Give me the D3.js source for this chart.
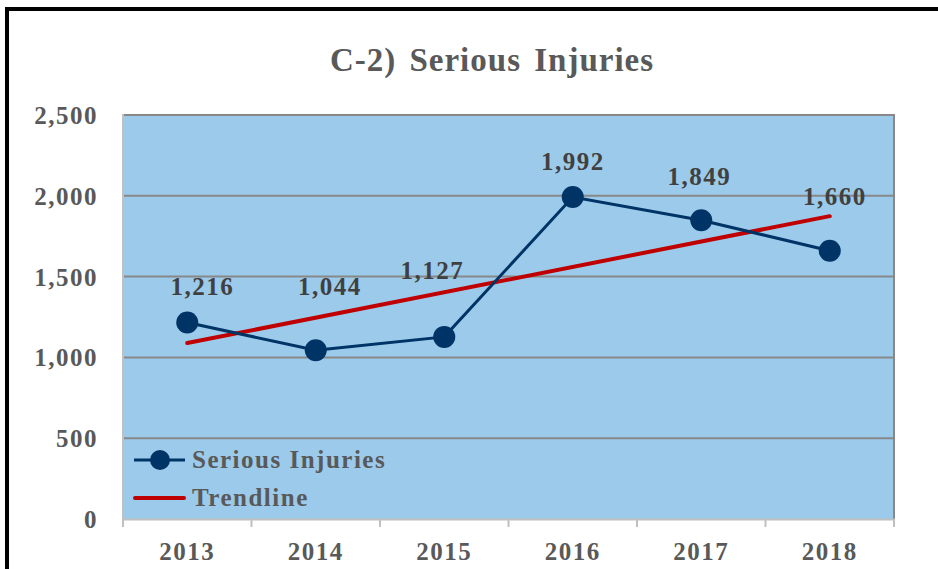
<!DOCTYPE html>
<html>
<head>
<meta charset="utf-8">
<script src="https://cdn.jsdelivr.net/npm/d3@7"></script>
<style>
  body { margin: 0; background: #fff; }
  text { font-family: "Liberation Serif", "Times New Roman", serif; font-weight: bold; }
</style>
</head>
<body>
<svg id="chart" width="938" height="569"></svg>
<script>
var years = ["2013", "2014", "2015", "2016", "2017", "2018"];
var injuries = [1216, 1044, 1127, 1992, 1849, 1660];
var trendEnds = [1089, 1874];   // trendline value at 2013 and at 2018
var yTicks = [0, 500, 1000, 1500, 2000, 2500];

var svg = d3.select("#chart");
var plotLeft = 123, plotRight = 894, plotTop = 115, plotBottom = 519;

// outer frame
svg.append("path")
    .attr("d", "M7,569 V9 H938")
    .attr("fill", "none")
    .attr("stroke", "#000")
    .attr("stroke-width", 4);

var x = d3.scaleBand().domain(years).range([plotLeft, plotRight]);
var y = d3.scaleLinear().domain([0, 2500]).range([plotBottom, plotTop]);
var cx = d => x(d) + x.bandwidth() / 2;

svg.append("rect")
    .attr("x", plotLeft).attr("y", plotTop)
    .attr("width", plotRight - plotLeft).attr("height", plotBottom - plotTop)
    .attr("fill", "#9BCAEA");

// gridlines
svg.append("g")
    .selectAll("line")
    .data(yTicks.filter(d => d > 0))
    .join("line")
    .attr("x1", plotLeft).attr("x2", plotRight)
    .attr("y1", d => y(d)).attr("y2", d => y(d))
    .attr("stroke", "#888")
    .attr("stroke-width", 2);

// plot border right / left
svg.append("line")
    .attr("x1", plotRight).attr("x2", plotRight).attr("y1", plotTop - 1).attr("y2", plotBottom)
    .attr("stroke", "#888").attr("stroke-width", 2);
svg.append("line")
    .attr("x1", plotLeft).attr("x2", plotLeft).attr("y1", plotTop - 1).attr("y2", plotBottom)
    .attr("stroke", "#c0c0c0").attr("stroke-width", 2);

// x axis
var xAxis = svg.append("g")
    .attr("transform", `translate(0, ${plotBottom})`)
    .call(d3.axisBottom(x).tickSize(0).tickFormat(""));
xAxis.select(".domain").attr("stroke", "#c0c0c0").attr("stroke-width", 2);
xAxis.selectAll(".bound")
    .data(d3.range(years.length + 1))
    .join("line")
    .attr("x1", i => plotLeft + i * x.bandwidth())
    .attr("x2", i => plotLeft + i * x.bandwidth())
    .attr("y1", 0).attr("y2", 8)
    .attr("stroke", "#c0c0c0").attr("stroke-width", 2);

svg.append("g")
    .selectAll("text")
    .data(years)
    .join("text")
    .attr("x", d => cx(d))
    .attr("y", 560)
    .attr("text-anchor", "middle")
    .attr("font-size", 25)
    .attr("letter-spacing", 1.5)
    .attr("fill", "#595959")
    .text(d => d);

// y labels
svg.append("g")
    .selectAll("text")
    .data(yTicks)
    .join("text")
    .attr("x", 98)
    .attr("y", d => y(d) + 9)
    .attr("text-anchor", "end")
    .attr("font-size", 25)
    .attr("letter-spacing", 1.5)
    .attr("fill", "#595959")
    .text(d => d3.format(",")(d));

// title
svg.append("text")
    .attr("x", 492)
    .attr("y", 71)
    .attr("text-anchor", "middle")
    .attr("font-size", 33)
    .attr("letter-spacing", 1)
    .attr("word-spacing", 4)
    .attr("fill", "#595959")
    .text("C-2) Serious Injuries");

// trendline
svg.append("line")
    .attr("x1", cx(years[0])).attr("y1", y(trendEnds[0]))
    .attr("x2", cx(years[years.length - 1])).attr("y2", y(trendEnds[1]))
    .attr("stroke", "#C00000")
    .attr("stroke-width", 4)
    .attr("stroke-linecap", "round");

// series
var line = d3.line().x((d, i) => cx(years[i])).y(d => y(d));
svg.append("path")
    .datum(injuries)
    .attr("d", line)
    .attr("fill", "none")
    .attr("stroke", "#003366")
    .attr("stroke-width", 3);

svg.append("g")
    .selectAll("circle")
    .data(injuries)
    .join("circle")
    .attr("cx", (d, i) => cx(years[i]))
    .attr("cy", d => y(d))
    .attr("r", 11)
    .attr("fill", "#003366");

// data labels, nudged like the original
var nudge = [[15, -27], [14, -55], [-12, -58], [0, -27], [-2, -35], [5, -46]];
svg.append("g")
    .selectAll("text")
    .data(injuries)
    .join("text")
    .attr("x", (d, i) => cx(years[i]) + nudge[i][0])
    .attr("y", (d, i) => y(d) + nudge[i][1])
    .attr("text-anchor", "middle")
    .attr("font-size", 25)
    .attr("letter-spacing", 1.5)
    .attr("fill", "#404040")
    .text(d => d3.format(",")(d));

// legend
var lg = svg.append("g");
lg.append("line")
    .attr("x1", 134).attr("x2", 185).attr("y1", 460).attr("y2", 460)
    .attr("stroke", "#003366").attr("stroke-width", 3);
lg.append("circle")
    .attr("cx", 160).attr("cy", 460).attr("r", 10)
    .attr("fill", "#003366");
lg.append("text")
    .attr("x", 192).attr("y", 468)
    .attr("font-size", 25)
    .attr("letter-spacing", 1.5)
    .attr("fill", "#595959")
    .text("Serious Injuries");
lg.append("line")
    .attr("x1", 135).attr("x2", 184).attr("y1", 498).attr("y2", 498)
    .attr("stroke", "#C00000").attr("stroke-width", 4)
    .attr("stroke-linecap", "round");
lg.append("text")
    .attr("x", 192).attr("y", 506)
    .attr("font-size", 25)
    .attr("letter-spacing", 1.5)
    .attr("fill", "#595959")
    .text("Trendline");
</script>
</body>
</html>
